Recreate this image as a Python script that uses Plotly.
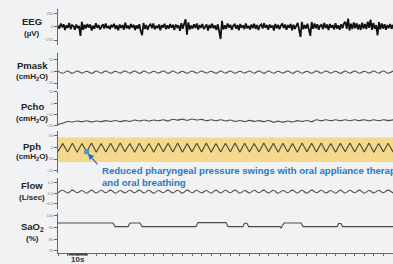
import plotly.graph_objects as go

# ---------------- data ----------------
EEG_DT = 175 / 239
eeg_uv = [20, -35, 60, -10, 45, -60, 25, -20, 70, -45, 30, 10, -55, 40, -25, 15, -170, 90, -60, 35,
          -30, 50, -15, 40, -70, 20, -40, 65, -20, 30, -50, 10, 45, -35, 60, -25, 15, -45, 35, -10,
          55, -40, 25, -65, 40, -20, 30, -55, 75, -30, 20, -45, 50, -15, 35, -60, 25, -35, 45, -80,
          -160, 70, -40, 30, -55, 20, 45, -30, 60, -50, 15, -25, 40, -65, 30, -15, 55, -45, 25, -35,
          50, -20, 35, -60, 40, -10, 25, -75, 65, -40, 30, 140, -150, 80, -50, 20, -35, 45, -25, 60,
          -55, 30, -20, 50, -45, 15, 40, -70, 35, -25, 55, -30, 20, -60, 45, -90, -230, 110, -50, 25,
          -40, 60, -15, 35, -55, 20, 45, -35, 30, -65, 50, -20, 25, -45, 60, -30, 15, -50, 40, -25,
          55, -40, 30, -60, 20, 45, -35, 65, -20, 30, -55, 40, -15, 25, -70, 50, -30, 35, -45, 20,
          60, -25, 40, -55, 30, -20, 50, -65, 35, -40, 25, 70, -60, -190, 90, -45, 30, -35, 55, -80,
          -170, 85, -40, 60, -30, 45, -55, 20, 35, -45, 70, -25, 40, -60, 50, -20, 30, -50, 65, -35,
          25, -55, 45, -30, 60, 90, -40, 150, -70, 55, -45, 80, -30, 65, -50, 40, -60, 75, -35, 50,
          -45, 95, -20, 130, -60, 70, -40, 30, -160, 85, -50, 60, -35, 45, -55, 30, -25, 50, -40, 35]

RESP_DT = 2.5
pmask_cmh2o = [0.0, -1.7, 0.1, -1.8, 0.2, -1.6, 0.0, -1.8, 0.1, -1.7, 0.2, -1.8, 0.0, -1.6, 0.1, -1.7,
               0.2, -1.8, 0.1, -1.7, 0.0, -1.6, 0.2, -1.8, 0.1, -1.7, 0.0, -1.8, 0.2, -1.7, 0.1, -1.6,
               0.0, -1.8, 0.1, -1.7, 0.2, -1.8, 0.0, -1.6, 0.1, -1.7, 0.2, -1.8, 0.1, -1.7, 0.0, -1.6,
               0.2, -1.8, 0.1, -1.7, 0.0, -1.8, 0.2, -1.7, 0.1, -1.6, 0.0, -1.8, 0.1, -1.7, 0.2, -1.8,
               0.0, -1.6, 0.1, -1.7, 0.2, -1.8, 0.1]
pcho_cmh2o = [-19.0, -17.9, -16.4, -16.8, -15.9, -16.7, -15.8, -16.8, -15.9, -16.5, -15.6, -16.4,
              -15.5, -16.5, -15.6, -16.3, -15.1, -15.9, -15.0, -16.0, -15.1, -15.8, -14.9, -15.9,
              -14.4, -15.2, -14.3, -15.3, -14.2, -15.1, -14.5, -15.8, -14.9, -15.7, -14.8, -15.9,
              -15.0, -16.3, -15.5, -16.4, -15.4, -16.3, -15.6, -16.5, -15.5, -17.0, -16.1, -17.0,
              -16.0, -16.9, -15.6, -16.4, -15.5, -16.5, -14.9, -15.8, -14.9, -15.7, -14.8, -15.8,
              -14.9, -15.7, -14.9, -15.6, -14.8, -15.8, -14.9, -15.7, -14.8, -15.6, -14.9]
pph_cmh2o = [-3.5, 3.0, -4.0, 3.4, -4.2, 3.1, -3.9, 3.5, -4.3, 3.2, -4.0, 3.3, -4.1, 3.6, -3.8, 3.2,
             -4.2, 3.4, -4.0, 3.1, -4.3, 3.5, -3.9, 3.3, -4.1, 3.6, -4.2, 3.2, -3.9, 3.4, -4.0, 3.5,
             -4.3, 3.1, -4.1, 3.3, -3.8, 3.6, -4.2, 3.4, -4.0, 3.2, -4.1, 3.5, -3.9, 3.3, -4.3, 3.4,
             -4.0, 3.1, -4.2, 3.6, -3.9, 3.3, -4.1, 3.5, -4.0, 3.2, -4.2, 3.4, -3.8, 3.5, -4.1, 3.3,
             -4.0, 3.6, -4.2, 3.1, -3.9, 3.4, -4.0]
flow_lps = [0.02, 0.14, 0.01, 0.15, 0.02, 0.13, 0.00, 0.15, 0.01, 0.14, 0.02, 0.15, 0.00, 0.13,
            0.01, 0.14, 0.02, 0.15, 0.01, 0.14, 0.00, 0.13, 0.02, 0.15, 0.01, 0.14, 0.00, 0.15,
            0.02, 0.14, 0.01, 0.13, 0.00, 0.15, 0.01, 0.14, 0.02, 0.15, 0.00, 0.13, 0.01, 0.14,
            0.02, 0.15, 0.01, 0.14, 0.00, 0.13, 0.02, 0.15, 0.01, 0.14, 0.00, 0.15, 0.02, 0.14,
            0.01, 0.13, 0.00, 0.15, 0.01, 0.14, 0.02, 0.15, 0.00, 0.13, 0.01, 0.14, 0.02, 0.15, 0.01]
sao2_time = [0, 28.7, 29.8, 36.6, 37.6, 42.8, 43.9, 72.1, 73.1, 87.8, 88.8, 96.6, 97.4, 98.7, 99.6,
             116.0, 116.5, 117.0, 118.1, 127.0, 128.0, 145.8, 146.6, 147.8, 148.6, 175]
sao2_pct = [93.6, 93.6, 90.6, 90.6, 93.6, 93.6, 90.6, 90.6, 94.0, 94.0, 90.6, 90.6, 93.4, 93.4, 90.6,
            90.6, 89.4, 90.6, 93.6, 93.6, 90.6, 90.6, 93.2, 93.2, 90.6, 90.6]

labels = [("EEG", "(µV)"), ("Pmask", "(cmH<sub>2</sub>O)"), ("Pcho", "(cmH<sub>2</sub>O)"),
          ("Pph", "(cmH<sub>2</sub>O)"), ("Flow", "(L/sec)"), ("SaO<sub>2</sub>", "(%)")]
note_text = "Reduced pharyngeal pressure swings with oral appliance therapy<br>and oral breathing"
marker_index = 6
scale_bar_s = (5.5, 15.5)
scale_label = "10s"

# ---------------- layout helpers ----------------
W, H = 393, 264
ML, MR, MT, MB = 58, 0, 0, 11
PW, PH = W - ML - MR, H - MT - MB


def py(p):
    return 1 - (p - MT) / PH


def pxp(p):
    return (p - ML) / PW


def times(n, dt):
    return [i * dt for i in range(n)]


BG = "#f1f2f4"
TRACE = "#4a4a4a"
fig = go.Figure()

fig.add_trace(go.Scatter(x=times(len(eeg_uv), EEG_DT), y=eeg_uv, yaxis="y",
                         line=dict(color="#111111", width=1.8), mode="lines"))
fig.add_trace(go.Scatter(x=times(len(pmask_cmh2o), RESP_DT), y=pmask_cmh2o, yaxis="y2",
                         line=dict(color=TRACE, width=1.1, shape="spline"), mode="lines"))
fig.add_trace(go.Scatter(x=times(len(pcho_cmh2o), RESP_DT), y=pcho_cmh2o, yaxis="y3",
                         line=dict(color=TRACE, width=1.1, shape="spline"), mode="lines"))
pph_t = times(len(pph_cmh2o), RESP_DT)
fig.add_trace(go.Scatter(x=pph_t, y=pph_cmh2o, yaxis="y4",
                         line=dict(color="#4d4636", width=1.1), mode="lines"))
fig.add_trace(go.Scatter(x=times(len(flow_lps), RESP_DT), y=flow_lps, yaxis="y5",
                         line=dict(color=TRACE, width=1.1, shape="spline"), mode="lines"))
fig.add_trace(go.Scatter(x=sao2_time, y=sao2_pct, yaxis="y6",
                         line=dict(color=TRACE, width=1.1), mode="lines"))
fig.add_trace(go.Scatter(x=[pph_t[marker_index]], y=[pph_cmh2o[marker_index]], yaxis="y4",
                         mode="markers", marker=dict(symbol="square", size=5, color="#3d9fc4")))

panels = [  # (top px, bottom px, range, ticks, format)
    (6, 42, [-333, 333], [-250, 0, 250], None),
    (51, 87, [-15, 15], [-10, 0, 10], None),
    (90, 124, [-20, 10], [-20, -10, 0, 10], None),
    (130, 172, [-21.7, 13.3], [-20, -10, 0, 10], None),
    (177, 208, [-0.74, 0.74], [-0.5, 0, 0.5], ".1f"),
    (213, 253, [68.3, 101.7], [70, 80, 90, 100], None),
]
for k, (top, bot, rng, tv, fmt) in enumerate(panels):
    name = "yaxis" if k == 0 else f"yaxis{k + 1}"
    ax = dict(domain=[py(bot), py(top)], range=rng, tickvals=tv, anchor="x",
              showline=True, linecolor="#666", linewidth=1, ticks="outside", ticklen=3,
              tickcolor="#666", tickfont=dict(size=4, color="#777"), showgrid=False,
              zeroline=False, fixedrange=True)
    if fmt:
        ax["tickformat"] = fmt
    fig.layout[name] = ax

fig.update_layout(
    width=W, height=H, margin=dict(l=ML, r=MR, t=MT, b=MB),
    paper_bgcolor=BG, plot_bgcolor=BG, showlegend=False,
    font=dict(family="Liberation Sans, Arial, sans-serif"),
    xaxis=dict(domain=[0, 1], range=[0, 175], anchor="y6", showline=True, linecolor="#666",
               linewidth=1, ticks="outside", ticklen=2, tickcolor="#666", dtick=5,
               showticklabels=False, showgrid=False, zeroline=False, fixedrange=True),
)

# yellow band in Pph
fig.add_shape(type="rect", xref="paper", yref="y4", x0=0, x1=1, y0=-12.5, y1=8.3,
              fillcolor="#f4d88c", line=dict(width=0), layer="below")

# scale bar
fig.add_shape(type="line", xref="x", yref="paper", x0=scale_bar_s[0], x1=scale_bar_s[1],
              y0=py(254.5), y1=py(254.5), line=dict(color="#444", width=2))
fig.add_annotation(x=(scale_bar_s[0] + scale_bar_s[1]) / 2, xref="x", y=py(260), yref="paper",
                   xanchor="center", yanchor="middle",
                   text="<b>" + scale_label + "</b>", showarrow=False,
                   font=dict(size=8, color="#333"))

label_y = [(19, 31), (63, 75), (105, 117), (145, 156), (185, 197), (227, 238)]
for (nm, unit), (y1, y2) in zip(labels, label_y):
    fig.add_annotation(x=pxp(32), xref="paper", y=py(y1), yref="paper", text="<b>" + nm + "</b>",
                       xanchor="center", yanchor="middle",
                       showarrow=False, font=dict(size=9.5, color="#222"))
    fig.add_annotation(x=pxp(32), xref="paper", y=py(y2), yref="paper", text="<b>" + unit + "</b>",
                       xanchor="center", yanchor="middle",
                       showarrow=False, font=dict(size=8, color="#222"))

# arrow + note
fig.add_annotation(x=pph_t[marker_index], y=pph_cmh2o[marker_index], xref="x", yref="y4",
                   ax=12, ay=14, text="", showarrow=True, arrowhead=2, arrowsize=1,
                   arrowwidth=1.2, arrowcolor="#2b6fb5", standoff=2)
fig.add_annotation(x=pxp(100), xref="paper", y=py(162), yref="paper", xanchor="left",
                   yanchor="top", align="left", text="<b>" + note_text + "</b>", showarrow=False,
                   font=dict(size=9.6, color="#2b78be"))

fig.write_html("out.html", config={"displayModeBar": False},
               post_script="document.body.style.margin='0';document.body.style.overflow='hidden';")
